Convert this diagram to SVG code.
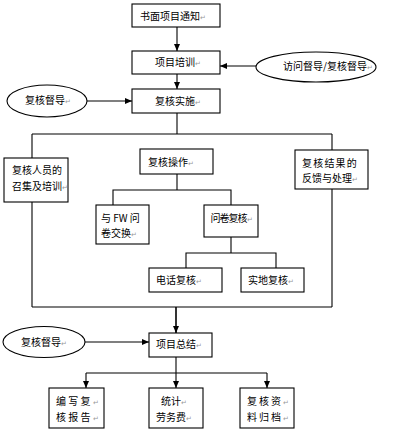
<svg xmlns="http://www.w3.org/2000/svg" width="400" height="431" viewBox="0 0 400 431">
<style>
rect,ellipse{fill:#fff;stroke:#000;stroke-width:1.1}
.c line,.c polyline{stroke:#000;stroke-width:1.1;fill:none}
text{font-family:"Noto Sans CJK SC","Noto Sans",sans-serif;font-size:10px;fill:#000}
.pm{fill:#999;font-size:7px}
</style>
<defs>
<marker id="a" markerUnits="userSpaceOnUse" markerWidth="8" markerHeight="8" refX="7" refY="4" orient="auto">
<path d="M0,1 L7,4 L0,7 Z" fill="#000"/>
</marker>
</defs>
<rect width="400" height="431" style="fill:#fff;stroke:none"/>
<g class="c" id="connectors">
<line x1="177" y1="27" x2="177" y2="51" marker-end="url(#a)"/>
<line x1="177" y1="74" x2="177" y2="89" marker-end="url(#a)"/>
<line x1="256" y1="66" x2="220" y2="66" marker-end="url(#a)"/>
<line x1="87" y1="101" x2="132" y2="101" marker-end="url(#a)"/>
<line x1="177" y1="113" x2="177" y2="134"/>
<line x1="32" y1="134" x2="332" y2="134"/>
<line x1="32" y1="134" x2="32" y2="158"/>
<line x1="332" y1="134" x2="332" y2="150"/>
<line x1="32" y1="202" x2="32" y2="307"/>
<line x1="332" y1="189" x2="332" y2="307"/>
<line x1="32" y1="307" x2="332" y2="307"/>
<polyline points="177,174 177,190"/>
<polyline points="113,205 113,190 231,190 231,205"/>
<polyline points="231,237 231,253"/>
<polyline points="186,268 186,253 276,253 276,268"/>
<line x1="176" y1="307" x2="176" y2="333" marker-end="url(#a)" style="stroke-width:1.6"/>
<line x1="85" y1="342" x2="149" y2="342" marker-end="url(#a)"/>
<line x1="176" y1="357" x2="176" y2="373"/>
<line x1="86" y1="373" x2="267" y2="373"/>
<line x1="86" y1="373" x2="86" y2="388" marker-end="url(#a)"/>
<line x1="176" y1="373" x2="176" y2="388" marker-end="url(#a)"/>
<line x1="267" y1="373" x2="267" y2="388" marker-end="url(#a)"/>
</g>
<g id="n1"><rect x="132" y="4" width="88" height="23"/><text x="140" y="19.8">书面项目通知<tspan class="pm">↵</tspan></text></g>
<g id="n2"><rect x="132" y="51" width="88" height="23"/><text x="155" y="65.5">项目培训<tspan class="pm">↵</tspan></text></g>
<g id="e1"><ellipse cx="316" cy="67" rx="60" ry="15"/><text x="283" y="70">访问督导/复核督导<tspan class="pm">↵</tspan></text></g>
<g id="e2"><ellipse cx="47" cy="101" rx="40" ry="16"/><text x="25" y="104">复核督导<tspan class="pm">↵</tspan></text></g>
<g id="n3"><rect x="132" y="89" width="88" height="24"/><text x="155" y="104.5">复核实施<tspan class="pm">↵</tspan></text></g>
<g id="n4"><rect x="4" y="158" width="64" height="44"/><text x="12" y="173.8">复核人员的</text><text x="12" y="189.5">召集及培训<tspan class="pm">↵</tspan></text></g>
<g id="n5"><rect x="140" y="149" width="73" height="25"/><text x="148" y="165.5">复核操作<tspan class="pm">↵</tspan></text></g>
<g id="n6"><rect x="295" y="150" width="73" height="39"/><text x="302" y="166.5" letter-spacing="1.2">复核结果的</text><text x="302" y="182">反馈与处理<tspan class="pm">↵</tspan></text></g>
<g id="n7"><rect x="96" y="205" width="53" height="39"/><text x="101" y="221.5">与 FW 问</text><text x="101" y="237">卷交换<tspan class="pm">↵</tspan></text></g>
<g id="n8"><rect x="204" y="205" width="54" height="32"/><text x="210.5" y="221.5" letter-spacing="-1">问卷复核<tspan class="pm">↵</tspan></text></g>
<g id="n9"><rect x="149" y="268" width="73" height="24"/><text x="156" y="283.8">电话复核<tspan class="pm">↵</tspan></text></g>
<g id="n10"><rect x="241" y="268" width="63" height="24"/><text x="248" y="283.8">实地复核<tspan class="pm">↵</tspan></text></g>
<g id="e3"><ellipse cx="44" cy="342" rx="41" ry="15.5"/><text x="21" y="346">复核督导<tspan class="pm">↵</tspan></text></g>
<g id="n11"><rect x="149" y="333" width="63" height="24"/><text x="156" y="348">项目总结<tspan class="pm">↵</tspan></text></g>
<g id="n12"><rect x="49" y="388" width="55" height="40"/><text x="56" y="404.8" letter-spacing="2.3">编写复<tspan class="pm" letter-spacing="0">↵</tspan></text><text x="56" y="420.5" letter-spacing="2.3">核报告<tspan class="pm" letter-spacing="0">↵</tspan></text></g>
<g id="n13"><rect x="149" y="388" width="54" height="40"/><text x="161" y="404.8">统计<tspan class="pm">↵</tspan></text><text x="156" y="420.5">劳务费<tspan class="pm">↵</tspan></text></g>
<g id="n14"><rect x="240" y="388" width="54" height="40"/><text x="247" y="404.8" letter-spacing="2">复核资<tspan class="pm" letter-spacing="0">↵</tspan></text><text x="247" y="420.5" letter-spacing="2">料归档<tspan class="pm" letter-spacing="0">↵</tspan></text></g>
</svg>
